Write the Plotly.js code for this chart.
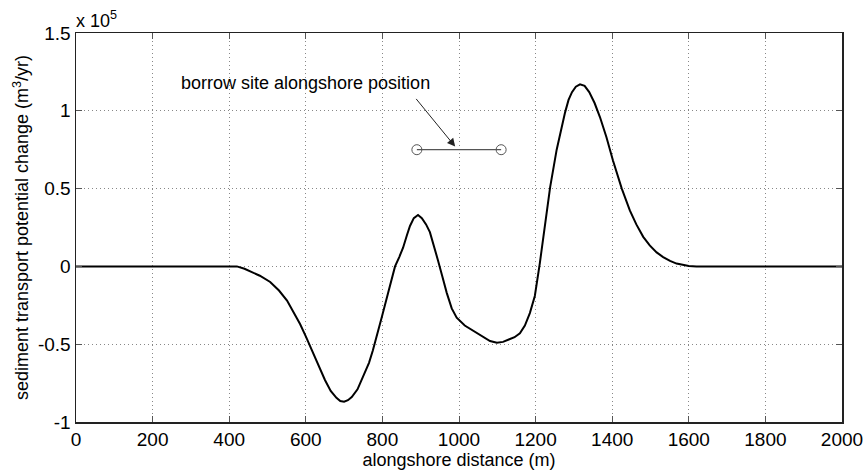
<!DOCTYPE html>
<html>
<head>
<meta charset="utf-8">
<script src="https://cdn.plot.ly/plotly-3.0.1.min.js"></script>
<style>html,body{margin:0;padding:0;background:#fff;}#chart{width:865px;height:473px;}</style>
</head>
<body>
<div id="chart"></div>
<script>
// alongshore distance (m)
const distance = [0,200,400,420,440,454,480,507,530,551,570,585,600,616,635,650,665,680,690,700,710,720,735,750,765,775,788,798,815,833,844,854,864,872,882,893,903,914,924,935,945,956,968,981,994,1015,1037,1060,1081,1099,1115,1130,1145,1159,1172,1185,1198,1211,1225,1238,1255,1266,1277,1286,1295,1305,1316,1328,1340,1354,1368,1385,1402,1425,1446,1463,1481,1498,1516,1533,1551,1568,1585,1600,1620,2000];
// sediment transport potential change (x 10^5 m^3/yr)
const change = [0,0,0,0,-0.015,-0.03,-0.06,-0.1,-0.155,-0.22,-0.3,-0.37,-0.45,-0.54,-0.65,-0.73,-0.8,-0.845,-0.865,-0.87,-0.86,-0.84,-0.79,-0.71,-0.62,-0.54,-0.43,-0.33,-0.17,0,0.06,0.12,0.2,0.26,0.31,0.33,0.31,0.27,0.22,0.13,0.04,-0.06,-0.17,-0.27,-0.33,-0.38,-0.415,-0.45,-0.48,-0.49,-0.485,-0.47,-0.455,-0.43,-0.38,-0.3,-0.19,0.02,0.28,0.51,0.75,0.88,0.99,1.07,1.12,1.155,1.17,1.16,1.12,1.05,0.96,0.83,0.68,0.5,0.36,0.27,0.19,0.135,0.09,0.06,0.035,0.018,0.007,0.002,0,0];
// borrow site alongshore position
const borrowX = [890, 1110];
const borrowY = [0.75, 0.75];

const xTicks = [0,200,400,600,800,1000,1200,1400,1600,1800,2000];
const yTicks = [-1,-0.5,0,0.5,1,1.5];
const yTickText = ['-1','-0.5','0','0.5','1','1.5'];

const tickFont = {family: 'Liberation Sans, Arial, sans-serif', size: 19, color: '#000'};
const titleFont = {family: 'Liberation Sans, Arial, sans-serif', size: 18, color: '#000'};

const traces = [
  {x: distance, y: change, mode: 'lines', type: 'scatter',
   line: {color: '#000', width: 2}, hoverinfo: 'skip'},
  {x: borrowX, y: borrowY, mode: 'lines+markers', type: 'scatter',
   line: {color: '#555', width: 1.2},
   marker: {symbol: 'circle-open', size: 10, color: '#555', line: {width: 1}}, hoverinfo: 'skip'}
];

const axisCommon = {
  showline: true, linecolor: '#222', linewidth: 1.5, mirror: 'ticks',
  ticks: 'inside', ticklen: 6, tickcolor: '#555', tickwidth: 1,
  showgrid: true, gridcolor: '#888', griddash: '1px,3px', gridwidth: 1,
  zeroline: false, tickfont: tickFont
};

const layout = {
  width: 865, height: 473,
  margin: {l: 76, r: 23, t: 33, b: 51},
  paper_bgcolor: '#fff', plot_bgcolor: '#fff',
  showlegend: false,
  font: titleFont,
  xaxis: Object.assign({}, axisCommon, {
    range: [0, 2000], tickvals: xTicks, ticktext: xTicks.map(String),
    title: {text: 'alongshore distance (m)', font: titleFont, standoff: 0}
  }),
  yaxis: Object.assign({}, axisCommon, {
    range: [-1, 1.5], tickvals: yTicks, ticktext: yTickText,
    title: {text: 'sediment transport potential change (m<sup>3</sup>/yr)', font: titleFont, standoff: 4}
  }),
  annotations: [
    {xref: 'paper', yref: 'paper', x: 0, y: 1, xanchor: 'left', yanchor: 'bottom',
     text: 'x 10<sup>5</sup>', showarrow: false, font: titleFont, xshift: -2, yshift: 0},
    {xref: 'x', yref: 'y', x: 600, y: 1.18, text: 'borrow site alongshore position',
     showarrow: false, font: titleFont},
    {xref: 'x', yref: 'y', x: 990, y: 0.77, axref: 'x', ayref: 'y', ax: 885, ay: 1.086,
     text: '', showarrow: true, arrowhead: 2, arrowsize: 1.6, arrowwidth: 1, arrowcolor: '#222'}
  ]
};

Plotly.newPlot('chart', traces, layout, {staticPlot: true, displayModeBar: false});
</script>
</body>
</html>
